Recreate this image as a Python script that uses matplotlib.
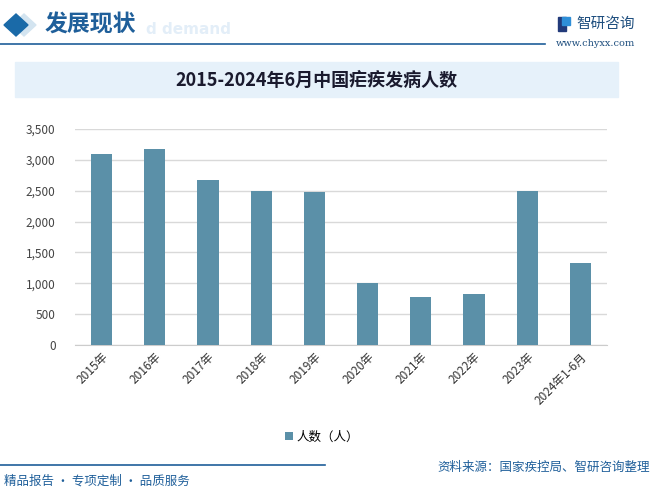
import numpy as np
import matplotlib.pyplot as plt
from matplotlib.patches import Rectangle, Polygon
from matplotlib.ticker import FuncFormatter

plt.rcParams['font.family'] = ['Noto Sans CJK SC', 'DejaVu Sans']

categories = ['2015年', '2016年', '2017年', '2018年', '2019年',
              '2020年', '2021年', '2022年', '2023年', '2024年1-6月']
cases = [3100, 3180, 2680, 2500, 2480, 1010, 770, 820, 2490, 1330]
series_name = '人数（人）'
title = '2015-2024年6月中国疟疾发病人数'

bar_color = '#5b90a8'
dark_blue = '#1f5f9a'

fig = plt.figure(figsize=(6.57, 4.95), dpi=100)
W, H = 657, 495

def fx(px):
    return px / W

def fy(py):
    return 1 - py / H

# header
fig.patches.append(Polygon([[fx(12), fy(25)], [fx(24), fy(14)], [fx(36), fy(25)], [fx(24), fy(36)]],
                           closed=True, transform=fig.transFigure, color='#d3e4f0'))
fig.patches.append(Polygon([[fx(4), fy(25)], [fx(16), fy(14)], [fx(28), fy(25)], [fx(16), fy(36)]],
                           closed=True, transform=fig.transFigure, color='#1a6aa8'))
fig.text(fx(146), fy(30), 'd demand', fontsize=11, color='#e3eef8', fontweight='bold',
         ha='left', va='center', family='DejaVu Sans')
fig.text(fx(45), fy(25), '发展现状', fontsize=16.5, color=dark_blue, fontweight='bold',
         ha='left', va='center')
fig.add_artist(plt.Line2D([0, fx(545)], [fy(44), fy(44)], color=dark_blue, lw=1.2))

# logo
fig.patches.append(Rectangle((fx(558), fy(31)), fx(8), 14 / H, transform=fig.transFigure, color='#223a7a'))
fig.patches.append(Rectangle((fx(562), fy(25)), fx(8), 8 / H, transform=fig.transFigure, color='#2f8fd8'))
fig.text(fx(576), fy(24), '智研咨询', fontsize=10.5, color='#1f4f7f', ha='left', va='center')
fig.text(fx(556), fy(43), 'www.chyxx.com', fontsize=7, color='#1f4f7f', ha='left', va='center',
         family='DejaVu Serif')

# title band
fig.patches.append(Rectangle((fx(15), fy(97)), fx(603), 35 / H, transform=fig.transFigure,
                             color='#e6f1fa', zorder=0))
fig.text(fx(316), fy(80), title, fontsize=13, fontweight='bold', color='#1a1a2e',
         ha='center', va='center')

# chart
ax = fig.add_axes([fx(75), fy(345), fx(532), (345 - 129) / H])
x = np.arange(len(categories))
ax.bar(x, cases, width=0.4, color=bar_color, label=series_name, zorder=3)
ax.set_xlim(-0.5, len(categories) - 0.5)
ax.set_ylim(0, 3500)
ax.set_yticks(np.arange(0, 3501, 500))
ax.yaxis.set_major_formatter(FuncFormatter(lambda v, p: f'{int(v):,}'))
ax.grid(axis='y', color='#d9d9d9', lw=1, zorder=0)
ax.set_xticks(x)
ax.set_xticklabels(categories, rotation=45, ha='right', rotation_mode='anchor',
                   fontsize=8.5, color='#333333')
ax.tick_params(axis='y', labelsize=8.5, labelcolor='#444444', length=0, pad=14)
ax.tick_params(axis='x', length=0, pad=4)
for s in ['top', 'right', 'left']:
    ax.spines[s].set_visible(False)
ax.spines['bottom'].set_color('#cccccc')
ax.set_facecolor('none')

fig.legend(loc='center', bbox_to_anchor=(fx(322), fy(437)), frameon=False, fontsize=9,
           handlelength=0.6, handleheight=0.6, handletextpad=0.3)

# footer
fig.add_artist(plt.Line2D([0, fx(325)], [fy(465), fy(465)], color=dark_blue, lw=1.2))
fig.text(fx(650), fy(467), '资料来源：国家疾控局、智研咨询整理', fontsize=9, color=dark_blue,
         ha='right', va='center')
fig.text(fx(4), fy(481), '精品报告 · 专项定制 · 品质服务', fontsize=9, color=dark_blue,
         ha='left', va='center')

fig.savefig('out.png', dpi=100)
